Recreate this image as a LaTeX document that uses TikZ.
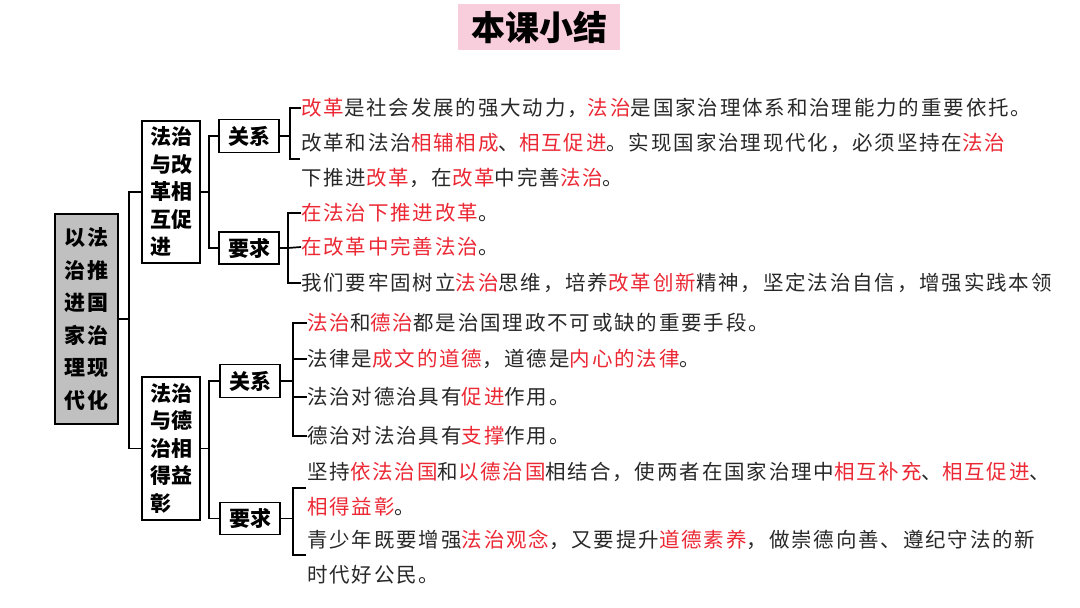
\documentclass[tikz,border=0pt]{standalone}
\usepackage{fontspec}
\newfontfamily\cjk[LetterSpace=9]{Noto Sans CJK SC}
\newfontfamily\cjkplain{Noto Sans CJK SC}
\definecolor{myred}{RGB}{235,40,52}
\definecolor{mytxt}{RGB}{40,40,40}
\definecolor{mypink}{RGB}{248,206,220}
\definecolor{mygrayfill}{RGB}{192,192,192}
\newcommand\hl[1]{\textcolor{myred}{#1}}
\begin{document}
\begin{tikzpicture}[x=1pt,y=-1pt,
  conn/.style={line width=1.7pt, black},
  boxa/.style={draw=black, line width=1.7pt, inner sep=0pt, font=\cjkplain\bfseries\fontsize{21}{27.5}\selectfont},
  lab/.style={boxa, minimum width=60pt, minimum height=33pt},
  txt/.style={anchor=west, inner sep=0pt, text=mytxt, text height=18pt, text depth=2.5pt, font=\cjk\fontsize{20.5}{22}\selectfont}
]
\useasboundingbox (0,0) rectangle (1080,608);
% title
\node[fill=mypink, minimum width=162pt, minimum height=46pt, inner sep=0pt, font=\cjkplain\bfseries\fontsize{34}{34}\selectfont] (title) at (539,27) {本课小结};
% root
\node[boxa, fill=mygrayfill, minimum width=63pt, minimum height=210pt, align=center, font=\cjkplain\bfseries\fontsize{21}{32.5}\selectfont] (g) at (86.5,319) {以\hspace{2pt}法\\治\hspace{2pt}推\\进\hspace{2pt}国\\家\hspace{2pt}治\\理\hspace{2pt}现\\代\hspace{2pt}化};
% level 2
\node[boxa, minimum width=58pt, minimum height=142pt, align=left] (b1) at (171,192) {法治\\与改\\革相\\互促\\进};
\node[boxa, minimum width=58pt, minimum height=143pt, align=left] (b2) at (171,448.5) {法治\\与德\\治相\\得益\\彰};
% level 3
\node[lab] (r1) at (249,136) {关系};
\node[lab, minimum height=32pt] (q1) at (249,248) {要求};
\node[lab] (r2) at (250,381) {关系};
\node[lab, minimum height=32pt] (q2) at (250,518.5) {要求};
% junctions
\coordinate (j0) at (129,319);
\coordinate (j1) at (209,192);
\coordinate (j2) at (209,448.5);
\draw[conn] (g.east) -- (j0);
\draw[conn] (b1.west) -| (j0) |- (b2.west);
\draw[conn] (b1.east) -- (j1);
\draw[conn] (r1.west) -| (j1) |- (q1.west);
\draw[conn] (b2.east) -- (j2);
\draw[conn] (r2.west) -| (j2) |- (q2.west);
% text lines group 1
\node[txt] (t1) at (301,108) {\hl{改革}是社会发展的强大动力，\hl{法治}是国家治理体系和治理能力的重要依托。};
\node[txt] (t2) at (301,143) {改革和法治\hl{相辅相成}、\hl{相互促进}。实现国家治理现代化，必须坚持在\hl{法治}};
\node[txt] (t3) at (301,178) {下推进\hl{改革}，在\hl{改革}中完善\hl{法治}。};
\node[txt] (t4) at (301,213) {\hl{在法治下推进改革}。};
\node[txt] (t5) at (301,247) {\hl{在改革中完善法治}。};
\begin{scope}
\clip (0,0) rectangle (1050,608);
\node[txt] (t6) at (301,283) {我们要牢固树立\hl{法治}思维，培养\hl{改革创新}精神，坚定法治自信，增强实践本领};
\end{scope}
% text lines group 2
\node[txt] (u1) at (307,323) {\hl{法治}和\hl{德治}都是治国理政不可或缺的重要手段。};
\node[txt] (u2) at (307,359) {法律是\hl{成文的道德}，道德是\hl{内心的法律}。};
\node[txt] (u3) at (307,397) {法治对德治具有\hl{促进}作用。};
\node[txt] (u4) at (307,436) {德治对法治具有\hl{支撑}作用。};
\node[txt] (v1) at (307,472) {坚持\hl{依法治国}和\hl{以德治国}相结合，使两者在国家治理中\hl{相互补充}、\hl{相互促进}、};
\node[txt] (v2) at (307,507) {\hl{相得益彰}。};
\node[txt] (v3) at (307,540) {青少年既要增强\hl{法治观念}，又要提升\hl{道德素养}，做崇德向善、遵纪守法的新};
\node[txt] (v4) at (307,575) {时代好公民。};
% brackets
\coordinate (k1) at (290,136);
\draw[conn] (r1.east) -- (k1);
\draw[conn] (t1.west) -- (290,108) -- (290,159) -- (300,159);
\coordinate (k2) at (288,248);
\draw[conn] (q1.east) -- (k2) -- (t5.west);
\draw[conn] (t4.west) -| (k2) |- (t6.west);
\coordinate (k3) at (293,381);
\draw[conn] (r2.east) -- (k3);
\draw[conn] (u1.west) -| (k3) |- (u4.west);
\draw[conn] (293,359) -- (u2.west);
\draw[conn] (293,397) -- (u3.west);
\coordinate (k4) at (293,518.5);
\draw[conn] (q2.east) -- (k4);
\draw[conn] (306,488) -- (293,488) -- (293,555) -- (306,555);
\end{tikzpicture}
\end{document}
